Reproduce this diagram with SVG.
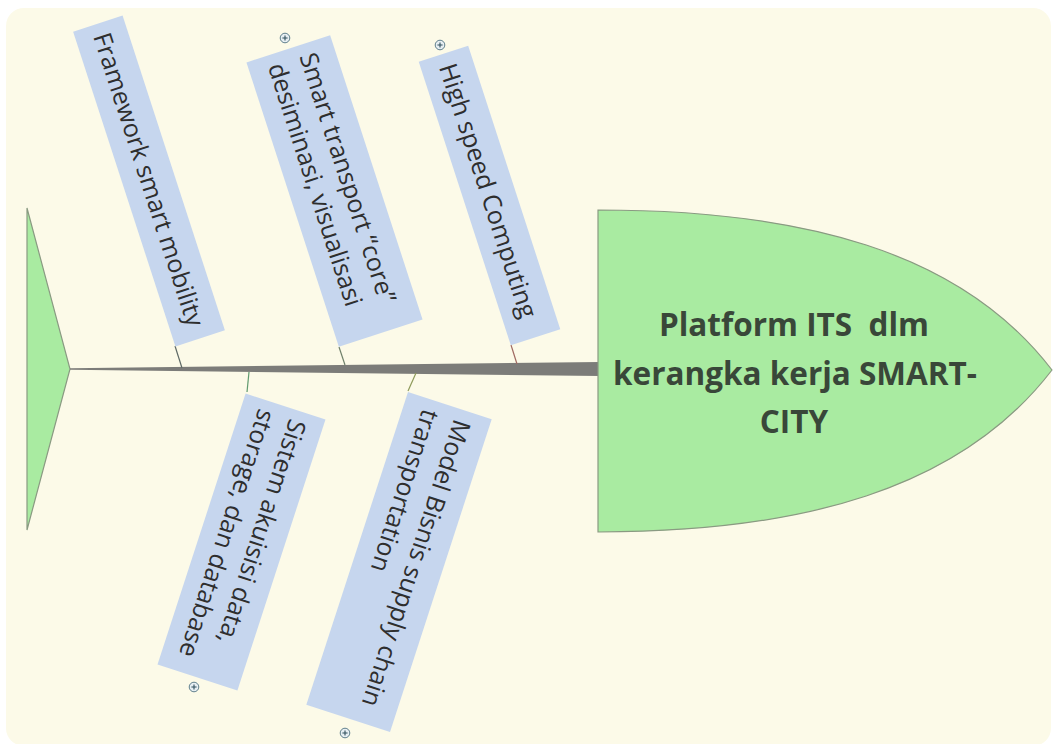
<svg xmlns="http://www.w3.org/2000/svg" width="1055" height="744" viewBox="0 0 1055 744">
  <style>
    .bone-box { fill: #c6d6ee; }
    .bone-text { font-family: "Open Sans", "Liberation Sans", sans-serif; font-size: 25px; fill: #2e2e2e; }
    .fish { fill: #a9eba1; stroke: #8a9a82; stroke-width: 1.2; }
    .head-text { font-family: "Open Sans", "Liberation Sans", sans-serif; font-size: 31.5px; font-weight: bold; fill: #394739; text-anchor: middle; white-space: pre; }
    .rib { fill: none; stroke-width: 1.2; }
    .expander circle { fill: #e6eef2; stroke: #5f7f8c; stroke-width: 1; }
    .expander path { stroke: #2f4f5c; stroke-width: 1.1; fill: none; }
  </style>
  <defs>
    <g id="expander" class="expander">
      <circle cx="0" cy="0" r="4.8"/>
      <path d="M-2.6,0 H2.6 M0,-2.6 V2.6"/>
    </g>
  </defs>

  <!-- page -->
  <rect x="0" y="0" width="1055" height="744" fill="#ffffff"/>
  <rect x="6" y="8" width="1045" height="738" rx="18" fill="#fcfae8"/>

  <!-- tail -->
  <g id="tail">
    <polygon class="fish" points="27,208 70,369 27,530"/>
  </g>

  <!-- spine and ribs -->
  <g id="connectors">
    <polygon points="70,368.2 70,369.8 600,376 600,362" fill="#7c7c79"/>
    <line class="rib" x1="175" y1="346" x2="182" y2="368" stroke="#5f6a66"/>
    <line class="rib" x1="339" y1="347" x2="345" y2="365" stroke="#6f806a"/>
    <line class="rib" x1="511" y1="345" x2="517" y2="364" stroke="#a06a62"/>
    <line class="rib" x1="247" y1="392" x2="249" y2="372" stroke="#5f9a6e"/>
    <line class="rib" x1="408" y1="391" x2="416" y2="373" stroke="#8e9a5a"/>
  </g>

  <!-- head -->
  <g id="head">
    <path class="fish" d="M598,210 C800,210 960,250 1052,370 C960,490 800,532 598,532 Z"/>
    <text class="head-text" x="794" y="336">Platform ITS  dlm</text>
    <text class="head-text" x="795" y="385">kerangka kerja SMART-</text>
    <text class="head-text" x="794" y="433">CITY</text>
  </g>

  <!-- upper bones -->
  <g id="node-framework" transform="translate(149,181) rotate(72)">
    <rect class="bone-box" x="-165.5" y="-26" width="331" height="52"/>
    <text class="bone-text" x="-155" y="8.5">Framework smart mobility</text>
  </g>

  <g id="node-smart-transport" transform="translate(334.5,191) rotate(72)">
    <rect class="bone-box" x="-149.5" y="-44" width="299" height="88"/>
    <text class="bone-text" x="-139" y="-8">Smart transport “core”</text>
    <text class="bone-text" x="-139" y="25">desiminasi, visualisasi</text>
  </g>
  <use href="#expander" x="285" y="38"/>

  <g id="node-high-speed" transform="translate(489.5,195.5) rotate(72)">
    <rect class="bone-box" x="-149" y="-26" width="298" height="52"/>
    <text class="bone-text" x="-138" y="8.5">High speed Computing</text>
  </g>
  <use href="#expander" x="440" y="45"/>

  <!-- lower bones -->
  <g id="node-sistem-akuisisi" transform="translate(241.5,542) rotate(108)">
    <rect class="bone-box" x="-142.5" y="-42" width="285" height="84"/>
    <text class="bone-text" x="-133" y="-7.5">Sistem akuisisi data,</text>
    <text class="bone-text" x="-133" y="25">storage, dan database</text>
  </g>
  <use href="#expander" x="194" y="687"/>

  <g id="node-model-bisnis" transform="translate(399,562) rotate(108)">
    <rect class="bone-box" x="-164.5" y="-44" width="329" height="88"/>
    <text class="bone-text" x="-154" y="-8">Model Bisnis supply chain</text>
    <text class="bone-text" x="-154" y="25">transportation</text>
  </g>
  <use href="#expander" x="345" y="733"/>
</svg>
